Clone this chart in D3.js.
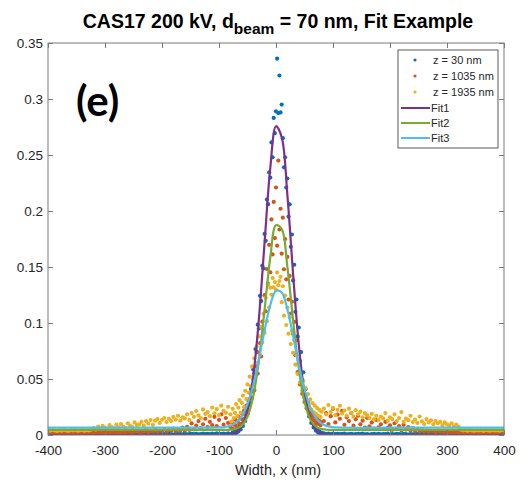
<!DOCTYPE html>
<html><head><meta charset="utf-8">
<script src="https://cdn.jsdelivr.net/npm/d3@7"></script>
<style>body{margin:0;background:#fff}text{font-family:"Liberation Sans",Arial,sans-serif}</style>
</head><body>
<svg id="c" width="530" height="485"></svg>
<script>
// ---------- DATA ----------
const xTicks = [-400,-300,-200,-100,0,100,200,300,400];
const yTicks = [0,0.05,0.1,0.15,0.2,0.25,0.3,0.35];
const yTickLabels = ["0","0.05","0.1","0.15","0.2","0.25","0.3","0.35"];
const seriesNames = ["z = 30 nm","z = 1035 nm","z = 1935 nm"];
const fitNames = ["Fit1","Fit2","Fit3"];

// sample positions (nm): tails every 4 nm, centre every 2 nm
const xsData = [].concat(d3.range(-400,-83,4), d3.range(-80,81,2), d3.range(84,401,4));

const z30 = [
 0.0006,0.0009,0.0004,0.0007,0.0011,0.0005,0.0008,0.0003,0.0010,0.0006,
 0.0007,0.0012,0.0004,0.0008,0.0005,0.0009,0.0006,0.0010,0.0003,0.0007,
 0.0008,0.0005,0.0011,0.0006,0.0004,0.0009,0.0007,0.0012,0.0005,0.0008,
 0.0006,0.0010,0.0004,0.0007,0.0009,0.0005,0.0011,0.0006,0.0008,0.0003,
 0.0007,0.0010,0.0005,0.0009,0.0006,0.0012,0.0004,0.0008,0.0007,0.0010,
 0.0005,0.0009,0.0006,0.0011,0.0008,0.0004,0.0010,0.0007,0.0009,0.0006,
 0.0012,0.0005,0.0008,0.0010,0.0007,0.0011,0.0006,0.0009,0.0013,0.0008,
 0.0010,0.0007,0.0012,0.0009,0.0014,0.0008,0.0011,0.0013,0.0009,0.0015,
 // centre -80..80
 0.0008,0.0003,0.0021,0.0009,0.0035,0.0018,0.0052,0.0031,0.0072,0.0049,
 0.0098,0.0081,0.0142,0.0125,0.0213,0.0188,0.0297,0.0281,0.0412,0.0398,
 0.0585,0.0551,0.0768,0.0742,0.0985,0.0951,0.1243,0.1196,0.1512,0.1488,
 0.1795,0.1734,0.2102,0.2061,0.2345,0.2298,0.2612,0.2480,0.2831,0.2695,
 0.2890,
 0.3360,0.2874,0.3210,0.2880,0.2950,0.2650,0.2390,0.2480,0.2210,0.2290,
 0.1950,0.2060,0.1680,0.1790,0.1380,0.1520,0.1100,0.1210,0.0880,0.0960,
 0.0660,0.0740,0.0490,0.0560,0.0350,0.0410,0.0240,0.0290,0.0165,0.0198,
 0.0108,0.0132,0.0068,0.0085,0.0039,0.0052,0.0021,0.0034,0.0011,0.0019,
 // right tail 84..400
 0.0014,0.0010,0.0012,0.0008,0.0013,0.0009,0.0011,0.0007,0.0010,0.0012,
 0.0006,0.0009,0.0011,0.0005,0.0008,0.0010,0.0007,0.0012,0.0006,0.0009,
 0.0004,0.0008,0.0011,0.0006,0.0010,0.0005,0.0007,0.0009,0.0012,0.0004,
 0.0008,0.0006,0.0010,0.0007,0.0005,0.0011,0.0008,0.0003,0.0009,0.0006,
 0.0010,0.0007,0.0004,0.0012,0.0006,0.0008,0.0005,0.0009,0.0011,0.0007,
 0.0003,0.0008,0.0010,0.0006,0.0009,0.0005,0.0012,0.0007,0.0004,0.0008,
 0.0010,0.0006,0.0009,0.0003,0.0007,0.0011,0.0005,0.0008,0.0006,0.0010,
 0.0004,0.0009,0.0007,0.0012,0.0005,0.0008,0.0006,0.0010,0.0004,0.0007
];

const z1035 = [
 0.0024,0.0019,0.0027,0.0022,0.0018,0.0025,0.0021,0.0028,0.0020,0.0023,
 0.0026,0.0019,0.0024,0.0022,0.0029,0.0021,0.0018,0.0025,0.0023,0.0027,
 0.0020,0.0024,0.0031,0.0022,0.0026,0.0019,0.0028,0.0023,0.0025,0.0033,
 0.0021,0.0027,0.0024,0.0030,0.0022,0.0035,0.0026,0.0023,0.0029,0.0038,
 0.0025,0.0032,0.0028,0.0041,0.0024,0.0036,0.0030,0.0045,0.0027,0.0039,
 0.0033,0.0052,0.0029,0.0044,0.0037,0.0058,0.0034,0.0048,0.0041,0.0066,
 0.0038,0.0072,0.0045,0.0103,0.0051,0.0085,0.0124,0.0062,0.0096,0.0145,
 0.0071,0.0118,0.0088,0.0162,0.0079,0.0135,0.0185,0.0092,0.0152,0.0108,
 // centre -80..80
 0.0072,0.0115,0.0058,0.0094,0.0138,0.0081,0.0122,0.0165,0.0102,0.0148,
 0.0193,0.0131,0.0215,0.0178,0.0262,0.0214,0.0318,0.0265,0.0382,0.0331,
 0.0455,0.0398,0.0541,0.0612,0.0548,0.0735,0.0821,0.0702,0.1012,0.0935,
 0.1248,0.1105,0.1482,0.1351,0.1698,0.1453,0.1925,0.1612,0.2081,0.1758,
 0.2210,
 0.1690,0.2450,0.1835,0.2020,0.1620,0.1940,0.1480,0.1750,0.1390,0.1590,
 0.1210,0.1420,0.1085,0.1190,0.0905,0.1010,0.0712,0.0845,0.0561,0.0648,
 0.0452,0.0523,0.0368,0.0412,0.0295,0.0336,0.0238,0.0271,0.0192,0.0226,
 0.0158,0.0184,0.0131,0.0167,0.0112,0.0145,0.0098,0.0126,0.0087,0.0113,
 // right tail
 0.0125,0.0196,0.0098,0.0168,0.0234,0.0112,0.0182,0.0145,0.0215,0.0091,
 0.0158,0.0124,0.0196,0.0083,0.0141,0.0172,0.0095,0.0128,0.0067,0.0153,
 0.0078,0.0112,0.0058,0.0134,0.0069,0.0095,0.0052,0.0118,0.0063,0.0087,
 0.0046,0.0105,0.0055,0.0079,0.0042,0.0091,0.0048,0.0071,0.0039,0.0062,
 0.0035,0.0054,0.0031,0.0047,0.0029,0.0042,0.0027,0.0038,0.0033,0.0025,
 0.0036,0.0028,0.0031,0.0024,0.0034,0.0026,0.0029,0.0022,0.0030,0.0025,
 0.0023,0.0027,0.0021,0.0025,0.0019,0.0026,0.0022,0.0028,0.0020,0.0024,
 0.0018,0.0023,0.0026,0.0021,0.0025,0.0019,0.0024,0.0022,0.0027,0.0020
];

const z1935 = [
 0.0042,0.0038,0.0045,0.0040,0.0036,0.0043,0.0039,0.0046,0.0041,0.0037,
 0.0044,0.0040,0.0047,0.0038,0.0042,0.0045,0.0039,0.0043,0.0041,0.0048,
 0.0062,0.0048,0.0075,0.0055,0.0081,0.0066,0.0052,0.0088,0.0071,0.0059,
 0.0092,0.0068,0.0098,0.0076,0.0063,0.0104,0.0082,0.0071,0.0112,0.0089,
 0.0095,0.0118,0.0084,0.0125,0.0102,0.0134,0.0091,0.0128,0.0142,0.0108,
 0.0136,0.0152,0.0115,0.0145,0.0124,0.0161,0.0138,0.0172,0.0129,0.0158,
 0.0148,0.0185,0.0135,0.0196,0.0162,0.0214,0.0175,0.0152,0.0228,0.0188,
 0.0205,0.0168,0.0245,0.0194,0.0231,0.0178,0.0262,0.0215,0.0198,0.0252,
 // centre -80..80
 0.0185,0.0121,0.0234,0.0152,0.0198,0.0276,0.0168,0.0245,0.0312,0.0201,
 0.0287,0.0352,0.0248,0.0395,0.0321,0.0452,0.0378,0.0521,0.0436,0.0612,
 0.0498,0.0685,0.0574,0.0792,0.0645,0.0881,0.0718,0.0965,0.0826,0.1082,
 0.0912,0.1225,0.1016,0.1342,0.1138,0.1315,0.1254,0.1402,0.1318,0.1365,
 0.1296,
 0.1452,0.1338,0.1375,0.1412,0.1186,0.1328,0.1065,0.1245,0.0982,0.1136,
 0.0905,0.1048,0.0812,0.0932,0.0735,0.0846,0.0628,0.0712,0.0545,0.0665,
 0.0468,0.0552,0.0395,0.0482,0.0336,0.0418,0.0292,0.0365,0.0254,0.0318,
 0.0226,0.0284,0.0205,0.0262,0.0188,0.0241,0.0172,0.0225,0.0161,0.0208,
 // right tail
 0.0236,0.0185,0.0268,0.0205,0.0242,0.0178,0.0225,0.0261,0.0192,0.0218,
 0.0172,0.0235,0.0198,0.0164,0.0222,0.0185,0.0208,0.0158,0.0195,0.0176,
 0.0152,0.0188,0.0141,0.0172,0.0135,0.0165,0.0148,0.0196,0.0128,0.0158,
 0.0142,0.0185,0.0125,0.0152,0.0205,0.0118,0.0146,0.0132,0.0172,0.0115,
 0.0138,0.0108,0.0165,0.0122,0.0098,0.0142,0.0112,0.0131,0.0095,0.0125,
 0.0105,0.0118,0.0088,0.0112,0.0096,0.0082,0.0105,0.0078,0.0092,0.0075,
 0.0048,0.0042,0.0045,0.0039,0.0046,0.0041,0.0038,0.0044,0.0040,0.0043,
 0.0037,0.0045,0.0041,0.0039,0.0044,0.0040,0.0042,0.0038,0.0043,0.0041
];

const fitX = [-400,-200,-120,-100,-90,-80,-70,-60,-50,-40,-30,-20,-10,0,10,20,30,40,50,60,70,80,90,100,120,200,400];
const fit1 = [0,0,0,0.00002,0.0001,0.0005,0.0022,0.0077,0.0219,0.0521,0.1037,0.1722,0.2385,0.2757,0.2659,0.2140,0.1437,0.0805,0.0376,0.0147,0.0048,0.0013,0.0003,0.0001,0,0,0];
const fit2 = [0.0045,0.0045,0.0045,0.0045,0.0045,0.0047,0.0056,0.0084,0.0163,0.0343,0.0667,0.1121,0.1586,0.1872,0.1838,0.1501,0.1024,0.0590,0.0296,0.0141,0.0075,0.0053,0.0047,0.0045,0.0045,0.0045,0.0045];
const fit3 = [0.0065,0.0065,0.0065,0.0067,0.0071,0.0082,0.0110,0.0168,0.0275,0.0446,0.0677,0.0936,0.1161,0.1288,0.1273,0.1122,0.0884,0.0627,0.0407,0.0249,0.0153,0.0102,0.0079,0.0070,0.0065,0.0065,0.0065];

const dotColors = ["#0072BD","#D95319","#EDB120"];
const fitColors = ["#7E2F8E","#77AC30","#4DBEEE"];

// ---------- CHART ----------
const svg = d3.select("#c");
const L=48, R=504, T=43, B=435;
const x = d3.scaleLinear().domain([-400,400]).range([L,R]);
const y = d3.scaleLinear().domain([0,0.35]).range([B,T]);
const axisCol = "#262626";

svg.append("defs").append("clipPath").attr("id","clip")
  .append("rect").attr("x",L).attr("y",T-4).attr("width",R-L).attr("height",B-T+4);

const plot = svg.append("g").attr("clip-path","url(#clip)");

[z30,z1035,z1935].forEach((vals,k)=>{
  const pts = vals.map((v,i)=>({x:xsData[i], y:v})).filter(d=>d.x!==undefined);
  plot.append("g").selectAll("circle").data(pts).enter().append("circle")
    .attr("cx",d=>x(d.x)).attr("cy",d=>y(d.y)).attr("r",2.1)
    .attr("fill",dotColors[k]);
});

const line = d3.line().x(d=>x(d[0])).y(d=>y(d[1])).curve(d3.curveCatmullRom.alpha(0.5));
[fit1,fit2,fit3].forEach((vals,k)=>{
  plot.append("path").datum(vals.map((v,i)=>[fitX[i],v]))
    .attr("d",line).attr("fill","none").attr("stroke",fitColors[k]).attr("stroke-width",2.2);
});

// frame
svg.append("rect").attr("x",L).attr("y",T).attr("width",R-L).attr("height",B-T)
  .attr("fill","none").attr("stroke","#7a7a7a").attr("stroke-width",1);

// axes
const gx = svg.append("g").attr("transform",`translate(0,${B})`)
  .call(d3.axisBottom(x).tickValues(xTicks).tickSizeInner(-5).tickSizeOuter(0).tickPadding(10).tickFormat(d3.format("d")));
const gxt = svg.append("g").attr("transform",`translate(0,${T})`)
  .call(d3.axisTop(x).tickValues(xTicks).tickSizeInner(-5).tickSizeOuter(0).tickFormat(""));
const gy = svg.append("g").attr("transform",`translate(${L},0)`)
  .call(d3.axisLeft(y).tickValues(yTicks).tickSizeInner(-5).tickSizeOuter(0).tickPadding(6).tickFormat((d,i)=>yTickLabels[i]));
const gyr = svg.append("g").attr("transform",`translate(${R},0)`)
  .call(d3.axisRight(y).tickValues(yTicks).tickSizeInner(-5).tickSizeOuter(0).tickFormat(""));
[gx,gxt,gy,gyr].forEach(g=>{
  g.select(".domain").remove();
  g.selectAll(".tick line").attr("stroke","#7a7a7a");
  g.selectAll("text").attr("fill",axisCol).style("font-size","13.5px").style("font-family","'Liberation Sans',Arial,sans-serif");
});
gx.selectAll("text").text(d=>d<0?"-"+Math.abs(d):d);
gy.selectAll("text").attr("x",-5);

// x label
svg.append("text").attr("x",(L+R)/2+2).attr("y",475).attr("text-anchor","middle")
  .attr("fill",axisCol).style("font-size","14.5px").text("Width, x (nm)");

// title
const title = svg.append("text").attr("x",278).attr("y",28).attr("text-anchor","middle")
  .attr("fill","#000").style("font-size","19.5px").style("font-weight","bold");
title.append("tspan").text("CAS17 200 kV, d");
title.append("tspan").attr("dy",6).style("font-size","15.5px").text("beam");
title.append("tspan").attr("dy",-6).text(" = 70 nm, Fit Example");

// panel label
svg.append("text").attr("x",76).attr("y",116).style("font-family","Lato, 'Open Sans', sans-serif")
  .style("font-weight","bold").style("font-size","42px").attr("fill","#000").text("(e)");

// legend
const lg = svg.append("g");
lg.append("rect").attr("x",398).attr("y",50).attr("width",100).attr("height",98)
  .attr("fill","#fff").attr("stroke","#333").attr("stroke-width",0.8);
const rowY = [60,76,92,108,123,138];
seriesNames.forEach((s,k)=>{
  lg.append("circle").attr("cx",415).attr("cy",rowY[k]).attr("r",1.6).attr("fill",dotColors[k]);
  lg.append("text").attr("x",433).attr("y",rowY[k]+4).style("font-size","11px").attr("fill",axisCol).text(s);
});
fitNames.forEach((s,k)=>{
  lg.append("line").attr("x1",401).attr("x2",430).attr("y1",rowY[k+3]).attr("y2",rowY[k+3])
    .attr("stroke",fitColors[k]).attr("stroke-width",2);
  lg.append("text").attr("x",431).attr("y",rowY[k+3]+4).style("font-size","11px").attr("fill",axisCol).text(s);
});
</script>
</body></html>
